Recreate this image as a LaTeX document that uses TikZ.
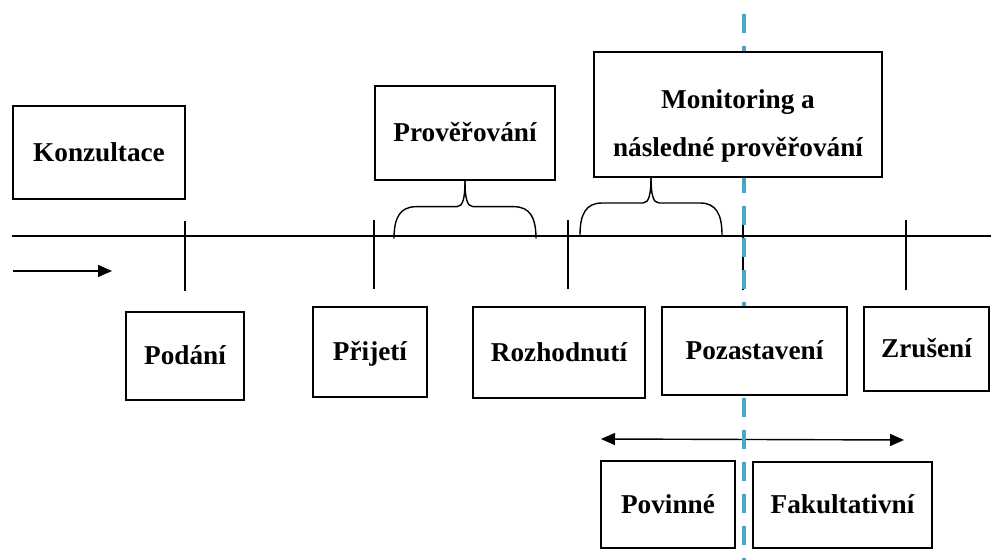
\documentclass[tikz,border=0pt]{standalone}
\usepackage{fontspec}
\setmainfont{Liberation Serif}
\usetikzlibrary{arrows.meta}
\definecolor{predel}{RGB}{75,168,196}
\tikzset{
  krok/.style = {draw, fill=white, line width=0.8pt, inner sep=2pt, align=center,
                 font=\bfseries\fontsize{15.5}{27}\selectfont},
  jeden/.style = {krok, text height=12pt, text depth=2pt},
  cara/.style = {line width=0.8pt},
  sipka/.style = {line width=0.8pt, -{Triangle[length=2.8mm, width=2.4mm]}}
}

\begin{document}
\begin{tikzpicture}[x=0.02cm, y=-0.02cm]
	\def \osa{236} % y of the time line
	\useasboundingbox (0,0) rectangle (991,560);
	
	% Time line
	\coordinate (zacatek) at (12,\osa);
	\coordinate (konec) at (991,\osa);
	\draw[cara] (zacatek) -- (konec);
	
	% Ticks
	\draw[cara] (185,221) -- (185,291); % Podani
	\draw[cara] (374,220) -- (374,289); % Prijeti
	\draw[cara] (568,220) -- (568,289); % Rozhodnuti
	\draw[cara] (743,220) -- (743,290); % Pozastaveni
	\draw[cara] (906,220) -- (906,290); % Zruseni
	
	% Direction arrow
	\coordinate (smer1) at (13,271);
	\coordinate (smer2) at (112,271);
	\draw[sipka] (smer1) -- (smer2);
	
	% Povinne / fakultativni arrow
	\coordinate (vlevo) at (601,439);
	\coordinate (vpravo) at (904,440);
	\draw[sipka, {Triangle[length=2.8mm, width=2.4mm]}-{Triangle[length=2.8mm, width=2.4mm]}] (vlevo) -- (vpravo);
	
	% Dashed divider (boxes are drawn over it)
	\coordinate (hore) at (744,14);
	\coordinate (dole) at (744,560);
	\draw[predel, line width=1.8pt, dash pattern=on 0.38cm off 0.26cm] (hore) -- (dole);
	
	% Boxes above the line
	\node[jeden, minimum width=3.44cm, minimum height=1.86cm] (konz) at (99,152.5) {Konzultace};
	\node[jeden, minimum width=3.6cm,  minimum height=1.88cm] (prov) at (465,133) {Prověřování};
	\node[krok,  minimum width=5.76cm, minimum height=2.5cm]  (moni) at (738,114.5) {\rule{0pt}{24pt}Monitoring a\\ následné prověřování};
	
	% Boxes below the line
	\node[jeden, minimum width=2.36cm, minimum height=1.76cm] (podani) at (185,356) {Podání};
	\node[jeden, minimum width=2.28cm, minimum height=1.8cm]  (prijeti) at (370,352) {Přijetí};
	\node[jeden, minimum width=3.44cm, minimum height=1.82cm] (rozh) at (559,352.5) {Rozhodnutí};
	\node[jeden, minimum width=3.7cm,  minimum height=1.76cm] (pozast) at (754.5,351) {Pozastavení};
	\node[jeden, minimum width=2.5cm,  minimum height=1.68cm] (zruseni) at (926.5,349) {Zrušení};
	\node[jeden, minimum width=2.68cm, minimum height=1.74cm] (povinne) at (668,504.5) {Povinné};
	\node[jeden, minimum width=3.58cm, minimum height=1.72cm] (fakult) at (842.5,505) {Fakultativní};
	
	% Braces
	\coordinate (spicka1) at (prov.south);
	\coordinate (spicka2) at (651,177);
	\draw[cara] (spicka1) .. controls +(0,17) and +(6,0) .. ++(-8,26) -- ++(-41,0) .. controls +(-16,0) and +(0,-21) .. ++(-22,32);
	\draw[cara] (spicka1) .. controls +(0,17) and +(-6,0) .. ++(8,26) -- ++(41,0) .. controls +(16,0) and +(0,-21) .. ++(22,32);
	\draw[cara] (spicka2) .. controls +(0,17) and +(6,0) .. ++(-8,26) -- ++(-41,0) .. controls +(-16,0) and +(0,-21) .. ++(-22,32);
	\draw[cara] (spicka2) .. controls +(0,17) and +(-6,0) .. ++(8,26) -- ++(41,0) .. controls +(16,0) and +(0,-21) .. ++(22,32);
	
\end{tikzpicture}
\end{document}
